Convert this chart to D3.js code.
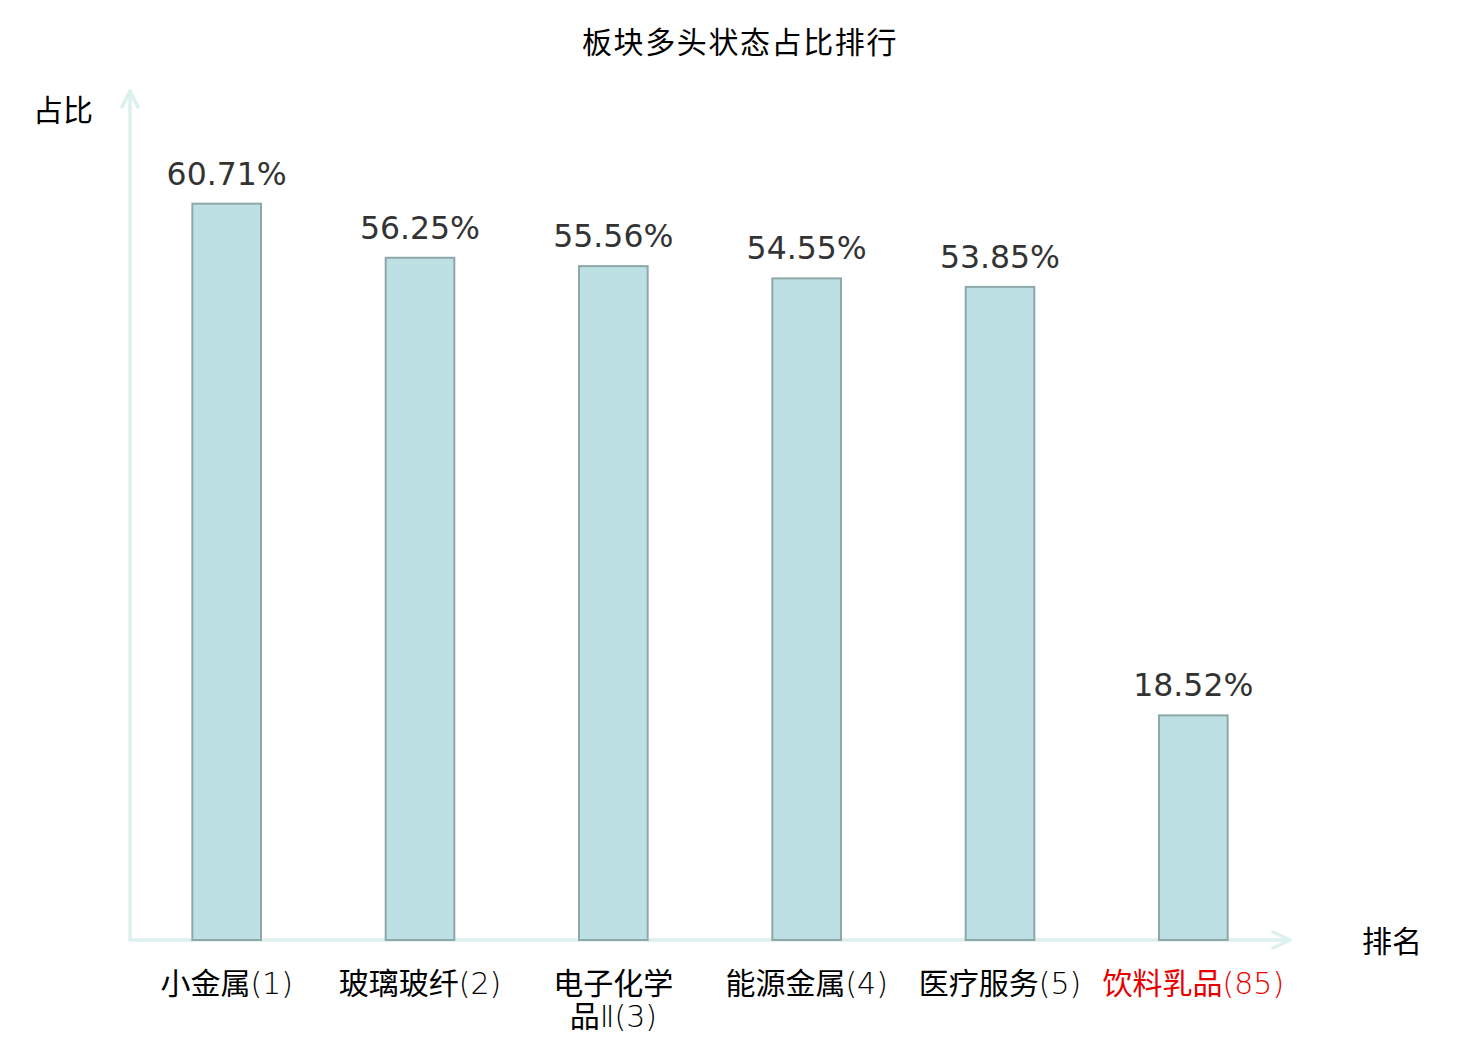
<!DOCTYPE html>
<html lang="zh-CN">
<head>
<meta charset="utf-8">
<title>板块多头状态占比排行</title>
<script src="https://cdn.jsdelivr.net/npm/d3@7/dist/d3.min.js"></script>
<style>
  body { margin: 0; background: #fff; }
  svg { display: block; }
</style>
</head>
<body>
<script>
// 数据
var names = ["小金属", "玻璃玻纤", "电子化学品Ⅱ", "能源金属", "医疗服务", "饮料乳品"];
var ranks = [1, 2, 3, 4, 5, 85];
var values = [60.71, 56.25, 55.56, 54.55, 53.85, 18.52];
var highlight = [false, false, false, false, false, true];
var yMax = 70;

(function() {
  var W = 1480, H = 1040;
  var mLeft = 130, mRight = 1290, mTop = 91, mBottom = 940;
  var cjk = "'Noto Sans CJK SC', 'Noto Sans', sans-serif";
  var latin = "'DejaVu Sans', 'Noto Sans CJK SC', sans-serif";
  var axisColor = "#dcf1ee";

  var svg = d3.select("body").append("svg")
    .attr("width", W).attr("height", H);

  var x = d3.scaleBand().domain(d3.range(names.length)).range([mLeft, mRight]);
  var y = d3.scaleLinear().domain([0, yMax]).range([mBottom, mTop]);
  var barW = x.bandwidth() * 0.355;

  // 标题
  svg.append("text")
    .attr("x", W / 2).attr("y", 53)
    .attr("text-anchor", "middle")
    .style("font-family", cjk).style("font-size", "30px").style("letter-spacing", "1.6px")
    .attr("fill", "#000")
    .text("板块多头状态占比排行");

  // 坐标轴 (带箭头)
  var axis = svg.append("g").attr("fill", "none").attr("stroke", axisColor)
    .attr("stroke-width", 3.5).attr("stroke-linecap", "round").attr("stroke-linejoin", "round");
  axis.append("line").attr("x1", mLeft).attr("y1", mBottom).attr("x2", mLeft).attr("y2", mTop);
  axis.append("polyline").attr("points", [[mLeft - 8, mTop + 16], [mLeft, mTop], [mLeft + 8, mTop + 16]].join(" "));
  axis.append("line").attr("x1", mLeft).attr("y1", mBottom).attr("x2", mRight).attr("y2", mBottom);
  axis.append("polyline").attr("points", [[mRight - 17, mBottom - 8], [mRight, mBottom], [mRight - 17, mBottom + 8]].join(" "));

  svg.append("text").attr("x", 63).attr("y", 121).attr("text-anchor", "middle")
    .style("font-family", cjk).style("font-size", "30px").attr("fill", "#000").text("占比");
  svg.append("text").attr("x", 1392).attr("y", 952).attr("text-anchor", "middle")
    .style("font-family", cjk).style("font-size", "30px").attr("fill", "#000").text("排名");

  // 柱子
  svg.selectAll("rect.bar").data(values).enter().append("rect")
    .attr("class", "bar")
    .attr("x", function(d, i) { return x(i) + (x.bandwidth() - barW) / 2; })
    .attr("y", function(d) { return y(d); })
    .attr("width", barW)
    .attr("height", function(d) { return mBottom - y(d); })
    .attr("fill", "#bce0e3")
    .attr("stroke", "#8ea8aa")
    .attr("stroke-width", 2);

  // 数值
  svg.selectAll("text.val").data(values).enter().append("text")
    .attr("class", "val")
    .attr("x", function(d, i) { return x(i) + x.bandwidth() / 2; })
    .attr("y", function(d) { return y(d) - 19; })
    .attr("text-anchor", "middle")
    .style("font-family", "'DejaVu Sans', sans-serif").style("font-size", "31.5px")
    .attr("fill", "#333")
    .text(function(d) { return d.toFixed(2) + "%"; });

  // 类目标签 (超过5个字时换行; 中文常规, 其余细体)
  var labels = svg.selectAll("text.cat").data(names).enter().append("text")
    .attr("class", "cat")
    .attr("text-anchor", "middle")
    .style("font-family", latin).style("font-size", "30px")
    .attr("fill", function(d, i) { return highlight[i] ? "#e60000" : "#000"; });

  labels.each(function(d, i) {
    var full = d + "(" + ranks[i] + ")";
    var lines = d.length > 5 ? [full.slice(0, 4), full.slice(4)] : [full];
    var t = d3.select(this);
    lines.forEach(function(l, k) {
      var m = l.match(/^([\u4e00-\u9fff]*)(.*)$/);
      t.append("tspan")
        .attr("x", x(i) + x.bandwidth() / 2)
        .attr("y", 994 + k * 33)
        .text(m[1]);
      if (m[2]) {
        t.append("tspan").style("font-weight", 200).text(m[2]);
      }
    });
  });
})();
</script>
</body>
</html>
